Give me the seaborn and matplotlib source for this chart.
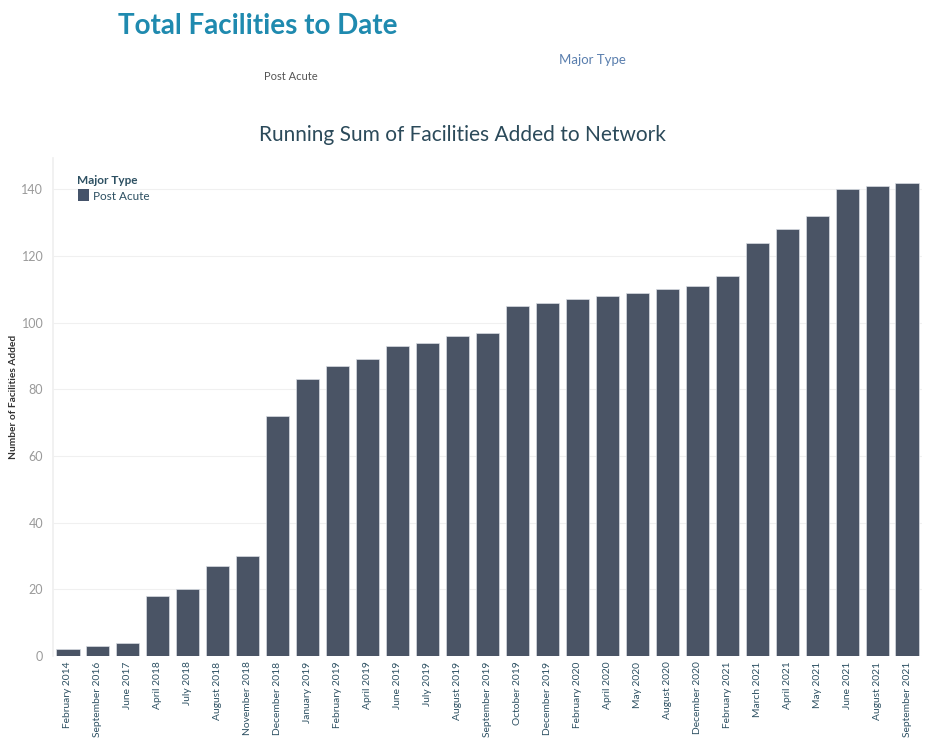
import matplotlib
matplotlib.use("Agg")
import matplotlib.pyplot as plt
import seaborn as sns
import pandas as pd
from matplotlib.patches import Rectangle

months = ["February 2014", "September 2016", "June 2017", "April 2018", "July 2018",
          "August 2018", "November 2018", "December 2018", "January 2019", "February 2019",
          "April 2019", "June 2019", "July 2019", "August 2019", "September 2019",
          "October 2019", "December 2019", "February 2020", "April 2020", "May 2020",
          "August 2020", "December 2020", "February 2021", "March 2021", "April 2021",
          "May 2021", "June 2021", "August 2021", "September 2021"]
running_sum = [2, 3, 4, 18, 20, 27, 30, 72, 83, 87, 89, 93, 94, 96, 97,
               105, 106, 107, 108, 109, 110, 111, 114, 124, 128, 132, 140, 141, 142]
y_ticks = [0, 20, 40, 60, 80, 100, 120, 140]

df = pd.DataFrame({"Month": months, "Facilities": running_sum, "Major Type": "Post Acute"})

sns.set_theme(style="white")
plt.rcParams['font.family'] = ['Lato', 'DejaVu Sans']

bar_color = "#45536a"
fig = plt.figure(figsize=(9.3, 7.43), dpi=100)
ax = fig.add_axes([53/930, 87/743, 869/930, 498/743])

sns.barplot(data=df, x="Month", y="Facilities", color=bar_color, width=0.77,
            edgecolor="#d8dce3", linewidth=0.5, ax=ax, zorder=3)

ax.set_ylim(0, 149.4)
ax.set_xlim(-0.5, len(months) - 0.5)
ax.set_yticks(y_ticks)
ax.yaxis.grid(True, color="#f0f0f0", linewidth=0.8, zorder=0)
ax.set_axisbelow(True)
for s in ["top", "right", "bottom"]:
    ax.spines[s].set_visible(False)
ax.spines["left"].set_color("#f0f0f0")
ax.tick_params(axis="y", labelsize=9, labelcolor="#9a9a9a", length=0, pad=7)
ax.tick_params(axis="x", labelsize=7.4, labelcolor="#2d5062", length=0, pad=4)
plt.setp(ax.get_xticklabels(), rotation=90)
ax.set_xlabel("")
ax.set_ylabel("Number of Facilities Added", fontsize=7.3, color="#333333",
              fontweight="bold")
ax.yaxis.set_label_coords(-0.040, 0.52)

# Titles and texts
fig.text(118/930, 1 - 26/743, "Total Facilities to Date", fontsize=20, fontweight="bold",
         color="#1f8aaf", va="center", ha="left")
fig.text(592/930, 1 - 60/743, "Major Type", fontsize=9.5, color="#5a7fae",
         va="center", ha="center")
fig.text(291/930, 1 - 77/743, "Post Acute", fontsize=8, color="#555555",
         va="center", ha="center")
fig.text(462/930, 1 - 135/743, "Running Sum of Facilities Added to Network", fontsize=15,
         color="#2b4a5a", va="center", ha="center")

# Legend inside plot
fig.text(77/930, 1 - 180/743, "Major Type", fontsize=8.5, color="#2d5062",
         va="center", ha="left", fontweight="bold")
fig.patches.append(Rectangle((78/930, 1 - 201/743), 11/930, 12/743,
                             transform=fig.transFigure, facecolor=bar_color,
                             edgecolor="none"))
fig.text(93/930, 1 - 196/743, "Post Acute", fontsize=8.5, color="#2d5062",
         va="center", ha="left")

fig.savefig("out.png", dpi=100)
